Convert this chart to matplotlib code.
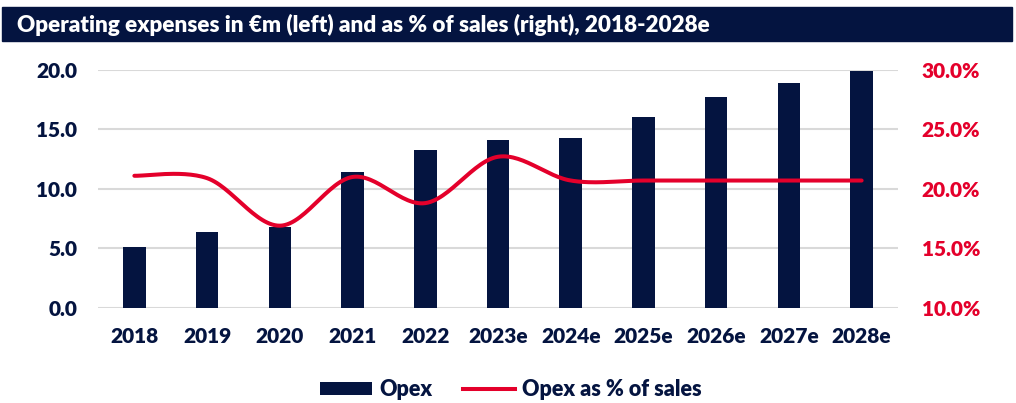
import numpy as np
import matplotlib
matplotlib.use("Agg")
import matplotlib.pyplot as plt
from matplotlib.patches import Rectangle, Patch
from matplotlib.lines import Line2D

categories = ["2018", "2019", "2020", "2021", "2022", "2023e", "2024e",
              "2025e", "2026e", "2027e", "2028e"]
opex = [5.1, 6.35, 6.8, 11.45, 13.25, 14.1, 14.3, 16.05, 17.7, 18.9, 19.9]
opex_pct = [21.1, 20.9, 16.9, 21.0, 18.8, 22.7, 20.7, 20.7, 20.7, 20.7, 20.7]
left_ticks = [0, 5, 10, 15, 20]
right_ticks = [10, 15, 20, 25, 30]
title = "Operating expenses in €m (left) and as % of sales (right), 2018-2028e"

NAVY = "#041440"
RED = "#E4002B"
GRID = "#D9D9D9"
FONT = ["Lato", "DejaVu Sans"]
WEIGHT = "heavy"

plt.rcParams["font.family"] = FONT
plt.rcParams["font.weight"] = WEIGHT

W, H = 1016, 403
fig = plt.figure(figsize=(W / 100, H / 100), dpi=100)

# title bar
fig.patches.append(Rectangle((2 / W, 1 - 41 / H), 1010 / W, 34 / H,
                             transform=fig.transFigure, color=NAVY, zorder=0))
fig.text(17 / W, 1 - 24.5 / H, title, color="white", fontsize=16.2,
         fontweight=WEIGHT, va="center", ha="left")

ax = fig.add_axes([98 / W, 1 - 307.7 / H, 800 / W, 237.7 / H])
x = np.arange(len(categories))
ax.bar(x, opex, width=0.31, color=NAVY, zorder=2)
ax.set_xlim(-0.5, len(categories) - 0.5)
ax.set_ylim(0, 20)
ax.set_yticks(left_ticks)
ax.set_yticklabels([f"{v:.1f}" for v in left_ticks])
ax.set_xticks(x)
ax.set_xticklabels(categories)
ax.tick_params(axis="both", length=0, labelsize=15, colors=NAVY)
ax.tick_params(axis="y", pad=15)
ax.tick_params(axis="x", pad=14)
ax.grid(axis="y", color=GRID, linewidth=1.5, zorder=0)
ax.set_axisbelow(True)
for s in ax.spines.values():
    s.set_visible(False)

ax2 = ax.twinx()
ax2.set_ylim(10, 30)
ax2.set_yticks(right_ticks)
ax2.set_yticklabels([f"{v:.1f}%" for v in right_ticks])
ax2.tick_params(axis="y", length=0, labelsize=15, colors=RED, pad=17)
for s in ax2.spines.values():
    s.set_visible(False)


def catmull_rom(xs, ys, n=30):
    xs = np.asarray(xs, float)
    ys = np.asarray(ys, float)
    px = np.concatenate([[xs[0]], xs, [xs[-1]]])
    py = np.concatenate([[ys[0]], ys, [ys[-1]]])
    ox, oy = [], []
    for i in range(1, len(px) - 2):
        p0, p1, p2, p3 = [np.array([px[j], py[j]]) for j in (i - 1, i, i + 1, i + 2)]
        c1 = p1 + (p2 - p0) / 6
        c2 = p2 - (p3 - p1) / 6
        t = np.linspace(0, 1, n)[:, None]
        b = ((1 - t) ** 3) * p1 + 3 * ((1 - t) ** 2) * t * c1 + 3 * (1 - t) * t ** 2 * c2 + t ** 3 * p2
        ox.extend(b[:, 0])
        oy.extend(b[:, 1])
    return np.array(ox), np.array(oy)


sx, sy = catmull_rom(x, opex_pct)
ax2.plot(sx, sy, color=RED, linewidth=2.9, solid_capstyle="round", zorder=3)

handles = [Patch(facecolor=NAVY, edgecolor="none"),
           Line2D([0], [0], color=RED, linewidth=2.9)]
fig.legend(handles, ["Opex", "Opex as % of sales"], loc="center",
           bbox_to_anchor=(511 / W, 1 - 390 / H), ncol=2, frameon=False,
           fontsize=15.5, labelcolor=NAVY, handlelength=2.4, handleheight=0.56,
           columnspacing=1.45, handletextpad=0.33,
           prop={"family": FONT, "weight": WEIGHT, "size": 15.5})

fig.savefig("out.png", dpi=100)
